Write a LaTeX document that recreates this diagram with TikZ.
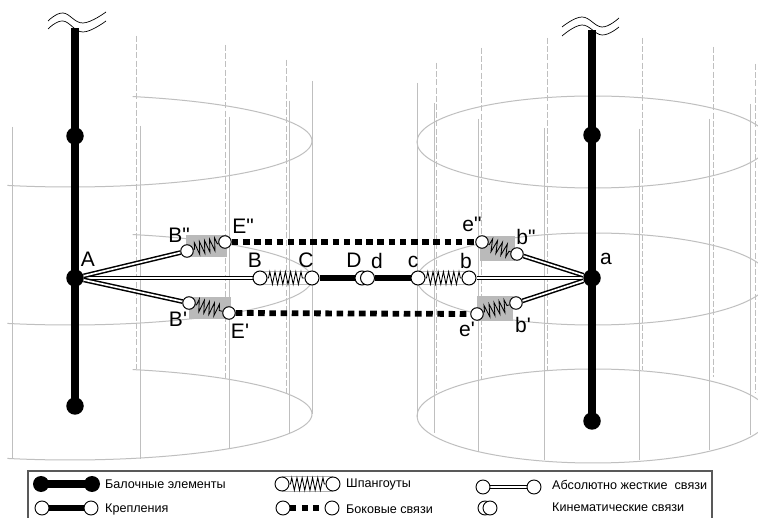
\documentclass[tikz,border=0pt]{standalone}
\usepackage{fontspec}
\newfontfamily\arial{Liberation Sans}
\usetikzlibrary{decorations.pathmorphing,backgrounds}
\tikzset{
  hollow/.style={circle,draw=black,fill=white,line width=1pt,minimum size=14pt,inner sep=0pt},
  solidn/.style={circle,fill=black,draw=none,minimum size=17.5pt,inner sep=0pt},
  legsolid/.style={circle,fill=black,draw=none,minimum size=16pt,inner sep=0pt},
  leghollow/.style={circle,draw=black,fill=white,line width=0.9pt,minimum size=14pt,inner sep=0pt},
  lab/.style={font=\arial\fontsize{21}{23}\selectfont,inner sep=0pt,text=black},
  legtxt/.style={font=\arial\fontsize{12.6}{14}\selectfont,inner sep=0pt,anchor=west,text=black},
  cyl/.style={draw=black!25,line width=1pt},
  cyld/.style={draw=black!25,line width=0.9pt,dash pattern=on 6pt off 2.2pt},
  beam/.style={line width=8.8pt,draw=black},
  fixing/.style={line width=6pt,draw=black},
  rigid/.style={draw=black,line width=1.5pt,double=white,double distance=1.7pt},
  spring/.style={draw=black,line width=0.85pt,decorate,decoration={zigzag,segment length=5.2pt,amplitude=6.3pt,pre length=1pt,post length=1pt}},
  side/.style={draw=black,line width=5.8pt,dash pattern=on 6.6pt off 4.6pt},
  plate/.style={fill=black!27,draw=none},
  wave/.style={draw=black,line width=0.7pt}
}
\begin{document}
\begin{tikzpicture}[x=1pt,y=-1pt]
\clip (0,0) rectangle (758,518);

% nodes
\coordinate (Atop) at (75,28);
\coordinate (atop) at (592,30);
\node[solidn] (A1) at (75,136) {};
\node[solidn] (A) at (75,278) {};
\node[solidn] (A2) at (75,406) {};
\node[solidn] (a1) at (592,135) {};
\node[solidn] (a) at (592,278) {};
\node[solidn] (a2) at (592,421) {};
\node[hollow] (B) at (260,278) {};
\node[hollow] (C) at (312,278) {};
\node[hollow] (D) at (362,278) {};
\node[hollow] (d) at (367.5,278) {};
\node[hollow] (c) at (418,278) {};
\node[hollow] (b) at (469,278) {};
\node[hollow,minimum size=12.5pt] (B2) at (187,251) {};
\node[hollow,minimum size=12.5pt] (E2) at (225,242) {};
\node[hollow,minimum size=12.5pt] (B1) at (189,303) {};
\node[hollow,minimum size=12.5pt] (E1) at (229,313) {};
\node[hollow,minimum size=12.5pt] (e2) at (482,242) {};
\node[hollow,minimum size=12.5pt] (b2) at (517,254) {};
\node[hollow,minimum size=12.5pt] (e1) at (477,314) {};
\node[hollow,minimum size=12.5pt] (b1) at (516,303) {};

% legend nodes
\node[legsolid] (L1a) at (41,484) {};
\node[legsolid] (L1b) at (92,484) {};
\node[leghollow] (L2a) at (42,508) {};
\node[leghollow] (L2b) at (91,508) {};
\node[leghollow] (L3a) at (282,484) {};
\node[leghollow] (L3b) at (333,484) {};
\node[leghollow] (L4a) at (283,508) {};
\node[leghollow] (L4b) at (332,508) {};
\node[leghollow] (L5a) at (483,487) {};
\node[leghollow] (L5b) at (534,487) {};
\node[leghollow] (L6a) at (485,508) {};
\node[leghollow] (L6b) at (490,508) {};

\begin{pgfonlayer}{background}
\fill[white] (0,0) rectangle (758,518);
% cylinders
\foreach \cy in {141,279,414}{
  \draw[cyl] plot[domain=75:-105,samples=80,smooth] ({70+242*cos(\x)},{\cy-46*sin(\x)});
}
\draw[cyl] (593,142) ellipse [x radius=176,y radius=46];
\draw[cyl] (593,279) ellipse [x radius=176,y radius=46];
\draw[cyl] (593,416) ellipse [x radius=176,y radius=47];
\foreach \vx/\vt/\vb in {12/127/459,140/126/459,229/117/449,289.5/101/433,312.5/81/414,
  417/83/417,434/103/433,478/119/451,544/128/460,639/129/460,709/119/450,750/104/435}{
  \draw[cyl] (\vx,\vt) -- (\vx,\vb);
}
\foreach \vx/\vt/\vb in {136/36/369,225/45/378,286/60/393,
  436/63/393,481/48/380,547/38/370,642/38/370,713/47/377,755/64/393}{
  \draw[cyld] (\vx,\vt) -- (\vx,\vb);
}
% plates
\fill[plate] (186,235) rectangle (227,257);
\fill[plate] (189,297) rectangle (231,319);
\fill[plate] (480,236) rectangle (515,261);
\fill[plate] (477,296) rectangle (513,321);
\draw[black!25,line width=0.9pt] (260,271.5) -- (312,271.5) (260,284.5) -- (312,284.5);
\draw[black!25,line width=0.9pt] (418,271.5) -- (469,271.5) (418,284.5) -- (469,284.5);
% beams
\draw[beam] (Atop) -- (A1.center);
\draw[beam] (A1.center) -- (A.center);
\draw[beam] (A.center) -- (A2.center);
\draw[beam] (atop) -- (a1.center);
\draw[beam] (a1.center) -- (a.center);
\draw[beam] (a.center) -- (a2.center);
% links
\draw[rigid] (A) -- (B);
\draw[rigid] (A) -- (B2);
\draw[rigid] (A) -- (B1);
\draw[rigid] (a) -- (b);
\draw[rigid] (a) -- (b2);
\draw[rigid] (a) -- (b1);
\draw[fixing] (C) -- (D);
\draw[fixing] (d) -- (c);
\draw[spring] (B) -- (C);
\draw[spring] (c) -- (b);
\draw[spring] (B2) -- (E2);
\draw[spring] (B1) -- (E1);
\draw[spring] (e2) -- (b2);
\draw[spring] (e1) -- (b1);
\draw[side] (E2) -- (e2);
\draw[side] (E1) -- (e1);
% legend connectors
\draw[fixing,line width=8pt] (L1a.center) -- (L1b.center);
\draw[fixing] (L2a) -- (L2b);
\draw[black!30,line width=0.7pt] (L3a.north) -- (L3b.north) (L3a.south) -- (L3b.south);
\draw[spring] (L3a) -- (L3b);
\draw[side,line width=5.5pt,dash pattern=on 6pt off 5.5pt] (L4a) -- (L4b);
\draw[rigid] (L5a) -- (L5b);
\end{pgfonlayer}

% break marks
\draw[wave] plot[smooth,tension=.7] coordinates {(48,21) (63,13) (83,23) (106,12)};
\draw[wave] plot[smooth,tension=.7] coordinates {(48,29) (63,21) (83,32) (106,21)};
\draw[wave] plot[smooth,tension=.7] coordinates {(562,27) (582,17) (602,27) (619,18)};
\draw[wave] plot[smooth,tension=.7] coordinates {(562,36) (582,25) (602,35) (619,27)};

% labels
\node[lab] (tA) at (88,259) {A};
\node[lab] (tB) at (255,260.5) {B};
\node[lab] (tC) at (306,260.5) {C};
\node[lab] (tD) at (354,260.5) {D};
\node[lab] (td) at (377,260.5) {d};
\node[lab] (tc) at (413,262) {c};
\node[lab] (tb) at (466,261) {b};
\node[lab] (ta) at (606,258.5) {a};
\node[lab] (tB2) at (179,235.5) {B"};
\node[lab] (tE2) at (243,226) {E"};
\node[lab] (tB1) at (178,319) {B'};
\node[lab] (tE1) at (240,331) {E'};
\node[lab] (te2) at (472,224) {e"};
\node[lab] (tb2) at (526,237) {b"};
\node[lab] (te1) at (467,329) {e'};
\node[lab] (tb1) at (523,325) {b'};

% legend frame and text
\draw[black!65,line width=1.2pt] (28,518) -- (28,471) -- (712,471) -- (712,518);
\node[legtxt] (T1) at (105,484) {Балочные элементы};
\node[legtxt] (T2) at (105,509) {Крепления};
\node[legtxt] (T3) at (346,484) {Шпангоуты};
\node[legtxt] (T4) at (346,509) {Боковые связи};
\node[legtxt] (T5) at (552,485) {Абсолютно жесткие\ \ связи};
\node[legtxt] (T6) at (552,507) {Кинематические связи};
\end{tikzpicture}
\end{document}
